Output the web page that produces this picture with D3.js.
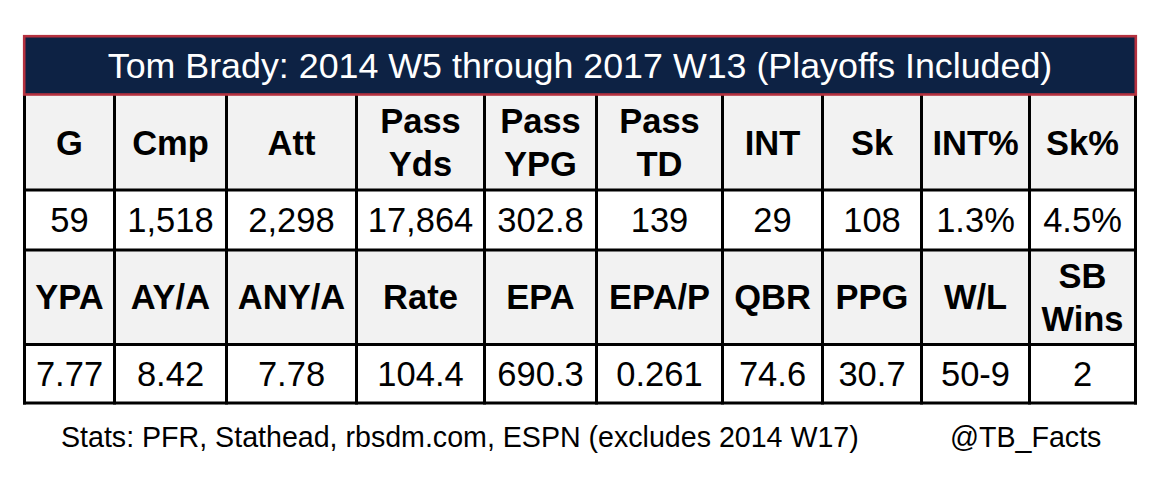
<!DOCTYPE html>
<html>
<head>
<meta charset="utf-8">
<script src="https://cdn.jsdelivr.net/npm/d3@7"></script>
<style>
  html, body { margin: 0; padding: 0; background: #ffffff; }
  svg { display: block; }
</style>
</head>
<body>
<svg id="chart" width="1159" height="482"></svg>
<script>
// ---- data ----
const title = "Tom Brady: 2014 W5 through 2017 W13 (Playoffs Included)";
const headers1 = ["G", "Cmp", "Att", "Pass\nYds", "Pass\nYPG", "Pass\nTD", "INT", "Sk", "INT%", "Sk%"];
const values1 = ["59", "1,518", "2,298", "17,864", "302.8", "139", "29", "108", "1.3%", "4.5%"];
const headers2 = ["YPA", "AY/A", "ANY/A", "Rate", "EPA", "EPA/P", "QBR", "PPG", "W/L", "SB\nWins"];
const values2 = ["7.77", "8.42", "7.78", "104.4", "690.3", "0.261", "74.6", "30.7", "50-9", "2"];
const source = "Stats: PFR, Stathead, rbsdm.com, ESPN (excludes 2014 W17)";
const credit = "@TB_Facts";

// ---- layout ----
const colWidths = [90, 112, 130, 128, 112, 126, 100, 99, 108, 106];
const edges = [0];
colWidths.forEach(w => edges.push(edges[edges.length - 1] + w));
const x = d3.scaleLinear().domain([0, edges[edges.length - 1]]).range([24.5, 1135.5]);

const rows = [
  { cells: headers1, top: 95, bottom: 190, header: true },
  { cells: values1, top: 190, bottom: 250, header: false },
  { cells: headers2, top: 250, bottom: 344.5, header: true },
  { cells: values2, top: 344.5, bottom: 403, header: false }
];

const navy = "#0d2244";
const red = "#b5313f";
const svg = d3.select("#chart");
const font = "'Liberation Sans', Arial, Helvetica, sans-serif";

// cells backgrounds
rows.forEach(r => {
  svg.append("g").selectAll("rect")
    .data(r.cells)
    .join("rect")
    .attr("x", (d, i) => x(edges[i]))
    .attr("y", r.top)
    .attr("width", (d, i) => x(edges[i + 1]) - x(edges[i]))
    .attr("height", r.bottom - r.top)
    .attr("fill", r.header ? "#f2f2f2" : "#ffffff");
});

// text
rows.forEach(r => {
  const cy = (r.top + r.bottom) / 2;
  const fs = 34.5;
  const g = svg.append("g");
  r.cells.forEach((d, i) => {
    const cx = (x(edges[i]) + x(edges[i + 1])) / 2;
    const lines = d.split("\n");
    const lh = r.header ? 43 : 0;
    const t = g.append("text")
      .attr("text-anchor", "middle")
      .attr("font-family", font)
      .attr("font-size", fs)
      .attr("font-weight", r.header ? "bold" : "normal")
      .attr("fill", "#000");
    lines.forEach((ln, k) => {
      const base = cy + fs * 0.35 + (k - (lines.length - 1) / 2) * lh;
      t.append("tspan").attr("x", cx).attr("y", base).text(ln);
    });
  });
});

// grid lines
const gridTop = 95, gridBottom = 403;
svg.append("g").selectAll("line")
  .data(edges)
  .join("line")
  .attr("x1", d => x(d)).attr("x2", d => x(d))
  .attr("y1", gridTop).attr("y2", gridBottom + 1.5)
  .attr("stroke", "#000").attr("stroke-width", 3);
svg.append("g").selectAll("line")
  .data([190, 250, 344.5, 403])
  .join("line")
  .attr("x1", x(0) - 1.5).attr("x2", x(edges[edges.length - 1]) + 1.5)
  .attr("y1", d => d).attr("y2", d => d)
  .attr("stroke", "#000").attr("stroke-width", 3);

// title band
svg.append("rect")
  .attr("x", 24.2).attr("y", 36.2)
  .attr("width", 1136.8 - 24.2 - 1).attr("height", 94.5 - 36.2)
  .attr("fill", navy)
  .attr("stroke", red).attr("stroke-width", 2.6);
svg.append("text")
  .attr("x", 580).attr("y", 78)
  .attr("text-anchor", "middle")
  .attr("font-family", font)
  .attr("font-size", 35.8)
  .attr("fill", "#ffffff")
  .text(title);

// footer
svg.append("text")
  .attr("x", 61).attr("y", 447)
  .attr("font-family", font)
  .attr("font-size", 28.6)
  .attr("fill", "#000")
  .text(source);
svg.append("text")
  .attr("x", 950).attr("y", 447)
  .attr("font-family", font)
  .attr("font-size", 28.6)
  .attr("fill", "#000")
  .text(credit);
</script>
</body>
</html>
